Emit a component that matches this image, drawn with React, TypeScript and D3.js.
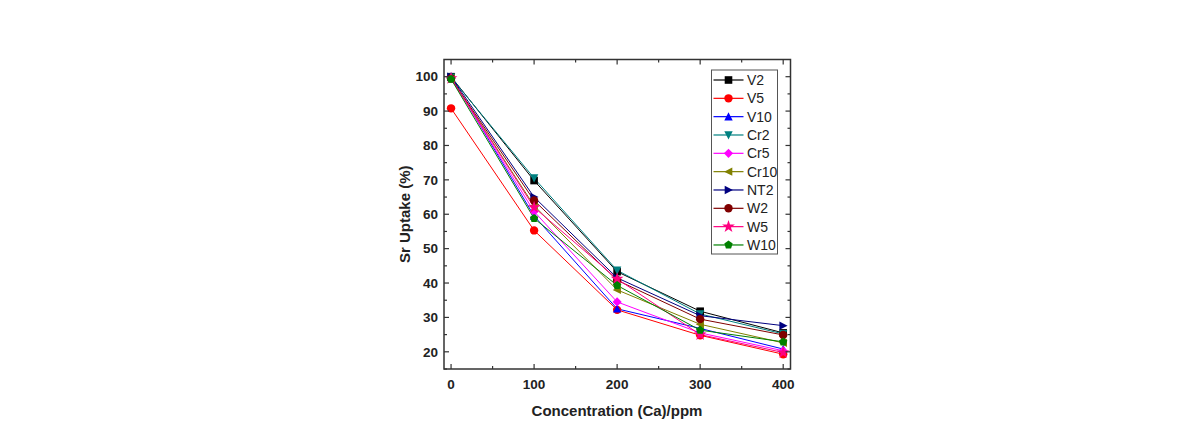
import React from "react";
import * as d3 from "d3";

const concentrations = [0, 100, 200, 300, 400];
const seriesNames = ["V2", "V5", "V10", "Cr2", "Cr5", "Cr10", "NT2", "W2", "W5", "W10"];
const V2 = [100, 69.8, 43.3, 31.8, 25.5];
const V5 = [90.8, 55.3, 32.2, 24.8, 19.3];
const V10 = [100, 59.5, 32.5, 26.8, 20.8];
const Cr2 = [99.8, 70.5, 43.7, 31.0, 25.2];
const Cr5 = [99.5, 60.8, 34.5, 25.5, 20.3];
const Cr10 = [99.5, 62.5, 38.0, 28.0, 22.6];
const NT2 = [100, 65.0, 41.5, 30.5, 27.6];
const W2 = [99.5, 64.0, 40.8, 29.5, 24.9];
const W5 = [99.5, 62.0, 41.2, 25.0, 19.8];
const W10 = [99.3, 58.8, 39.3, 26.3, 22.9];
const xTicks = [0, 100, 200, 300, 400];
const yTicks = [20, 30, 40, 50, 60, 70, 80, 90, 100];

const seriesValues = [V2, V5, V10, Cr2, Cr5, Cr10, NT2, W2, W5, W10];
const colors = ["#000000", "#ff0000", "#0000ff", "#008080", "#ff00ff", "#808000", "#000080", "#800000", "#ff0080", "#008000"];
const shapes = ["square", "circle", "up", "down", "diamond", "left", "right", "circle", "star", "pentagon"];

function Marker({ shape, x, y, color }: { shape: string; x: number; y: number; color: string }) {
  const s = 3.8;
  let d = "";
  if (shape === "square") return <rect x={x - s} y={y - s} width={2 * s} height={2 * s} fill={color} />;
  if (shape === "circle") return <circle cx={x} cy={y} r={s + 0.4} fill={color} />;
  if (shape === "up") d = `M${x},${y - s - 0.6}L${x + s + 0.4},${y + s}L${x - s - 0.4},${y + s}Z`;
  if (shape === "down") d = `M${x},${y + s + 0.6}L${x + s + 0.4},${y - s}L${x - s - 0.4},${y - s}Z`;
  if (shape === "left") d = `M${x - s - 0.6},${y}L${x + s},${y - s - 0.4}L${x + s},${y + s + 0.4}Z`;
  if (shape === "right") d = `M${x + s + 0.6},${y}L${x - s},${y - s - 0.4}L${x - s},${y + s + 0.4}Z`;
  if (shape === "diamond") d = `M${x},${y - s - 0.8}L${x + s + 0.8},${y}L${x},${y + s + 0.8}L${x - s - 0.8},${y}Z`;
  if (shape === "star") {
    const sym = d3.symbol(d3.symbolStar, 50)();
    return <path d={sym || ""} transform={`translate(${x},${y})`} fill={color} />;
  }
  if (shape === "pentagon") {
    const pts: string[] = [];
    for (let i = 0; i < 5; i++) {
      const a = -Math.PI / 2 + (i * 2 * Math.PI) / 5;
      pts.push(`${x + (s + 0.6) * Math.cos(a)},${y + (s + 0.6) * Math.sin(a)}`);
    }
    d = "M" + pts.join("L") + "Z";
  }
  return <path d={d} fill={color} />;
}

export default function App() {
  const W = 1190, H = 442;
  const left = 444, right = 790.5, top = 59.5, bottom = 369;
  const x = d3.scaleLinear().domain([-8.5, 408.8]).range([left, right]);
  const y = d3.scaleLinear().domain([15, 105]).range([bottom, top]);
  const line = d3.line<number>().x((_, i) => x(concentrations[i])).y((v) => y(v));
  const font = "'Liberation Sans', Arial, sans-serif";
  const xMinor = d3.range(50, 400, 100);
  const yMinor = d3.range(15, 105, 10);
  const frame = "#333";

  const legX = 711.5, legY = 70, legW = 66, legH = 184, rowH = 18.33;

  return (
    <svg width={W} height={H} style={{ position: "absolute", left: 0, top: 0, background: "#fff" }}>
      {seriesValues.map((vals, k) => (
        <path key={"l" + k} d={line(vals) || ""} fill="none" stroke={colors[k]} strokeWidth={1} />
      ))}
      {seriesValues.map((vals, k) =>
        vals.map((v, i) => (
          <Marker key={`m${k}-${i}`} shape={shapes[k]} x={x(concentrations[i])} y={y(v)} color={colors[k]} />
        ))
      )}
      <rect x={left} y={top} width={right - left} height={bottom - top} fill="none" stroke={frame} strokeWidth={1.5} />
      {xTicks.map((t) => (
        <g key={"xt" + t}>
          <line x1={x(t)} x2={x(t)} y1={bottom} y2={bottom - 5} stroke={frame} strokeWidth={1.2} />
          <line x1={x(t)} x2={x(t)} y1={top} y2={top + 5} stroke={frame} strokeWidth={1.2} />
          <text x={x(t)} y={389} textAnchor="middle" fontFamily={font} fontWeight="bold" fontSize={13.5} fill="#222">{t}</text>
        </g>
      ))}
      {xMinor.map((t) => (
        <g key={"xm" + t}>
          <line x1={x(t)} x2={x(t)} y1={bottom} y2={bottom - 3} stroke={frame} strokeWidth={1.2} />
          <line x1={x(t)} x2={x(t)} y1={top} y2={top + 3} stroke={frame} strokeWidth={1.2} />
        </g>
      ))}
      {yTicks.map((t) => (
        <g key={"yt" + t}>
          <line x1={left} x2={left + 5} y1={y(t)} y2={y(t)} stroke={frame} strokeWidth={1.2} />
          <line x1={right} x2={right - 5} y1={y(t)} y2={y(t)} stroke={frame} strokeWidth={1.2} />
          <text x={438} y={y(t) + 4.7} textAnchor="end" fontFamily={font} fontWeight="bold" fontSize={13.5} fill="#222">{t}</text>
        </g>
      ))}
      {yMinor.map((t) => (
        <g key={"ym" + t}>
          <line x1={left} x2={left + 3} y1={y(t)} y2={y(t)} stroke={frame} strokeWidth={1.2} />
          <line x1={right} x2={right - 3} y1={y(t)} y2={y(t)} stroke={frame} strokeWidth={1.2} />
        </g>
      ))}
      <text x={617} y={416} textAnchor="middle" fontFamily={font} fontWeight="bold" fontSize={15} fill="#222">Concentration (Ca)/ppm</text>
      <text transform={`translate(410,${(top + bottom) / 2}) rotate(-90)`} textAnchor="middle" fontFamily={font} fontWeight="bold" fontSize={15} fill="#222">Sr Uptake (%)</text>
      <rect x={legX} y={legY} width={legW} height={legH} fill="#fff" stroke="#555" strokeWidth={1} />
      {seriesNames.map((n, k) => {
        const ry = legY + 10 + k * rowH;
        return (
          <g key={"lg" + n}>
            <line x1={legX + 2} x2={legX + 32} y1={ry} y2={ry} stroke={colors[k]} strokeWidth={1.2} />
            <Marker shape={shapes[k]} x={legX + 17} y={ry} color={colors[k]} />
            <text x={legX + 35.5} y={ry + 5} fontFamily={font} fontSize={14} fill="#222">{n}</text>
          </g>
        );
      })}
    </svg>
  );
}
